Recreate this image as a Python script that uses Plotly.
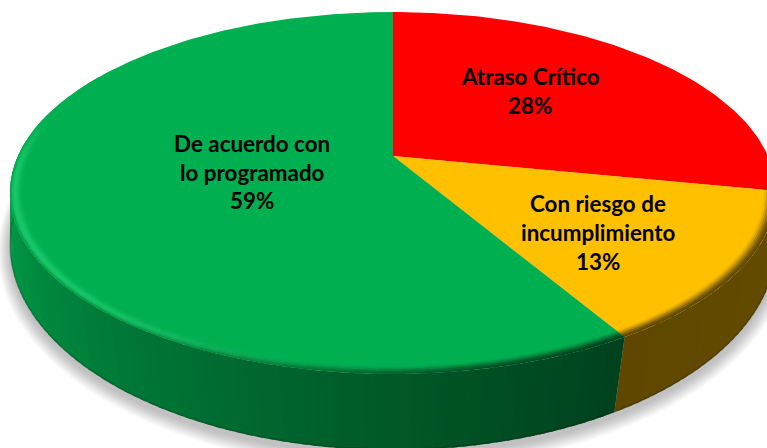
import numpy as np
import plotly.graph_objects as go

# --- data ---
categories = ["Atraso Crítico", "Con riesgo de incumplimiento", "De acuerdo con lo programado"]
values = [28.1, 13.4, 58.5]
percent_labels = ["28%", "13%", "59%"]

# --- style ---
slice_colors = [(255, 0, 0), (255, 192, 0), (0, 176, 80)]
W, H = 767, 448
CX = 393
TOP = dict(a=375.0, b=173.4, k=0.2044, cy=156.0)
BOT = dict(a=378.7, b=200.6, k=0.15, cy=214.0)
RIM_IN = 0.965
label_layout = {
    0: [(530, 76), (530, 105)],
    1: [(598, 203), (598, 232), (598, 261)],
    2: [(252, 143), (252, 172), (252, 200)],
}
label_lines = {
    0: ["Atraso Crítico", percent_labels[0]],
    1: ["Con riesgo de", "incumplimiento", percent_labels[1]],
    2: ["De acuerdo con", "lo programado", percent_labels[2]],
}


def project(theta, m, r=1.0):
    u = r * np.sin(theta)
    v = r * np.cos(theta)
    w = 1 + m["k"] * v
    return CX + m["a"] * u / w, m["cy"] - m["b"] * v / w


def rgb(c):
    return "rgb(%d,%d,%d)" % tuple(int(round(max(0, min(255, x)))) for x in c)


def lerp(a, b, t):
    return tuple(x + (y - x) * t for x, y in zip(a, b))


def sstep(e0, e1, x):
    t = min(1.0, max(0.0, (x - e0) / (e1 - e0)))
    return t * t * (3 - 2 * t)


def side_mult(deg):
    return np.interp(deg, [90, 150, 180, 225, 250, 285], [0.40, 0.37, 0.50, 0.72, 0.84, 0.92])


def rim_color(base, deg, t):
    side = tuple(x * side_mult(deg) for x in base)
    weight = sstep(0.30, -0.10, np.cos(np.radians(deg)))
    dark = sstep(235, 165, deg)
    light = sstep(150, 215, deg)
    bump = np.exp(-(((t - 0.62) / 0.30) ** 2))
    c = lerp(base, (60, 230, 140) if base == slice_colors[2] else (255, 255, 255), 0.42 * light * bump * weight)
    c = lerp(c, side, weight * dark * sstep(0.05, 0.95, t))
    c = lerp(c, side, weight * (1 - dark) * sstep(0.82, 1.0, t) * 0.6)
    return c


fig = go.Figure()


def poly(x, y, color, lw=0.0):
    x, y = list(x), list(y)
    fig.add_trace(go.Scatter(
        x=x + x[:1], y=y + y[:1], mode="lines", fill="toself", fillcolor=color,
        line=dict(color=color, width=lw), hoverinfo="skip", showlegend=False,
    ))


# soft drop shadow
phi = np.linspace(0, 2 * np.pi, 181)
for grow in np.linspace(22, 1, 11):
    m = dict(BOT)
    m["a"] = BOT["a"] + grow * 0.55
    m["b"] = BOT["b"] + grow * 0.55
    x, y = project(phi, m)
    fig.add_trace(go.Scatter(
        x=x, y=y + 5, mode="lines", fill="toself", fillcolor="rgba(0,0,0,0.022)",
        line=dict(width=0), hoverinfo="skip", showlegend=False,
    ))

# slice boundaries (clockwise from the top) come from the values
total = float(sum(values))
edges = np.concatenate([[0], np.cumsum(values)]) / total * 360.0


def grid(start, end, step):
    n = max(1, int(np.ceil((end - start) / step)))
    return np.linspace(start, end, n + 1)


# side wall: each strip runs on under the next one
for i, base in enumerate(slice_colors):
    s, e = max(edges[i], 92), min(edges[i + 1], 285)
    if e <= s:
        continue
    g = grid(s, e, 1.5)
    for d0, d1 in zip(g[:-1], g[1:]):
        far = min(d1 + 0.8, e)
        t0, t1 = np.radians([d0, far])
        x0, y0 = project(np.array([t0, t1]), TOP)
        x1, y1 = project(np.array([t1, t0]), BOT)
        c = rgb(tuple(x * side_mult((d0 + d1) / 2) for x in base))
        poly(list(x0) + list(x1), list(y0) + list(y1), c, lw=0.0)

# dark lower edge of the wall
g = np.radians(np.linspace(92, 285, 160))
bx, by = project(g, BOT)
fig.add_trace(go.Scatter(x=bx, y=by - 0.6, mode="lines", line=dict(color="rgba(0,0,0,0.14)", width=2),
                         hoverinfo="skip", showlegend=False))

# top face
for i, base in enumerate(slice_colors):
    th = np.radians(grid(edges[i], edges[i + 1], 1.0))
    x, y = project(th, TOP)
    cx0, cy0 = project(np.array([0.0]), TOP, r=0.0)
    poly(np.r_[cx0, x], np.r_[cy0, y], rgb(base))

# bevelled rim
rings = np.linspace(RIM_IN, 1.0, 8)
for i, base in enumerate(slice_colors):
    s, e = max(edges[i], 100), min(edges[i + 1], 300)
    if e <= s:
        continue
    g = grid(s, e, 3.0)
    for d0, d1 in zip(g[:-1], g[1:]):
        far = min(d1 + 0.5, e)
        arc = np.radians(np.linspace(d0, far, 3))
        for j, (r0, r1) in enumerate(zip(rings[:-1], rings[1:])):
            tt = (j + 0.5) / (len(rings) - 1)
            xa, ya = project(arc, TOP, r=r0)
            xb, yb = project(arc[::-1], TOP, r=min(r1 + 0.002, 1.0))
            poly(list(xa) + list(xb), list(ya) + list(yb),
                 rgb(rim_color(base, (d0 + d1) / 2, tt)))

# labels
annotations = []
for i, lines in label_lines.items():
    for (lx, ly), txt in zip(label_layout[i], lines):
        annotations.append(dict(
            x=lx, y=ly, text="<b>%s</b>" % txt, showarrow=False, xanchor="center", yanchor="middle",
            font=dict(family="Lato, Carlito, sans-serif", size=22.4, color="black"),
        ))

fig.update_layout(
    width=W, height=H, margin=dict(l=0, r=0, t=0, b=0),
    paper_bgcolor="white", plot_bgcolor="white", showlegend=False,
    xaxis=dict(range=[0, W], visible=False, fixedrange=True),
    yaxis=dict(range=[H, 0], visible=False, fixedrange=True),
    annotations=annotations,
)
fig.write_html("out.html", config=dict(displayModeBar=False),
               post_script="document.body.style.margin='0';document.body.style.overflow='hidden';")
